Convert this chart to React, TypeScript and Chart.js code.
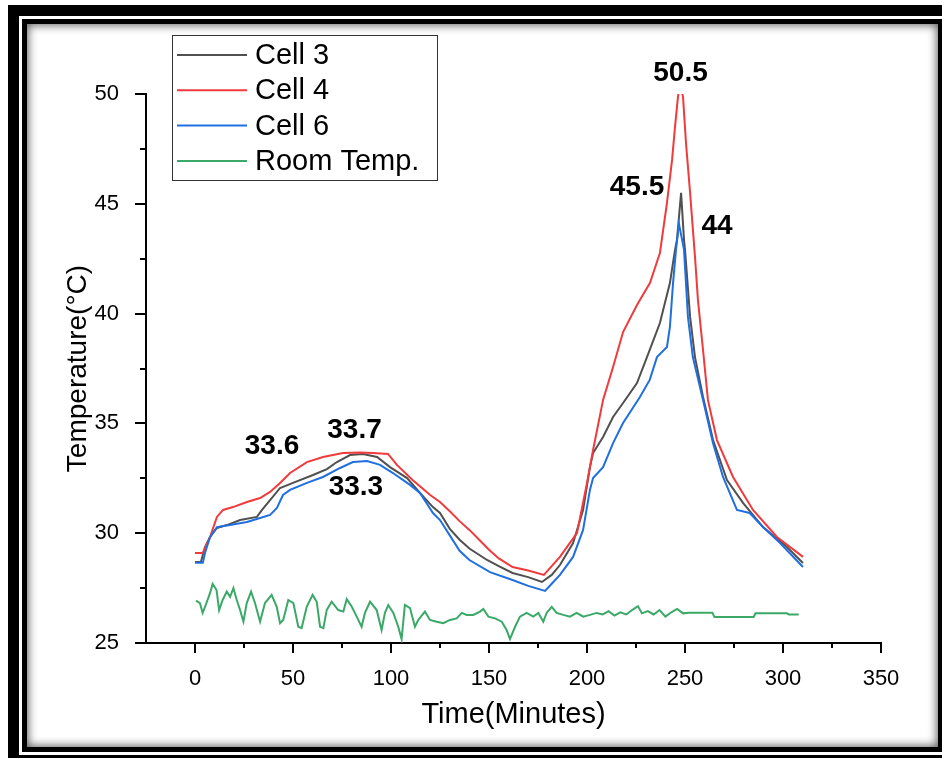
import React, { useEffect, useRef } from 'react';
import { Chart, registerables } from 'chart.js';
Chart.register(...registerables);

const FONT = '"Liberation Sans", Arial, Helvetica, sans-serif';

const seriesLabels = ['Cell 3', 'Cell 4', 'Cell 6', 'Room Temp.'];
const seriesColors = ['#505050', '#f03a3c', '#1f6fe0', '#3aa866'];

// [time (min), temperature (°C)]
const cell3: [number, number][] = [
  [0, 28.69], [3, 28.69], [5.1, 29.37], [7.7, 29.83], [11.2, 30.24], [16.3, 30.37], [23, 30.6], [31.6, 30.74],
  [34.2, 31.06], [38.3, 31.51], [43.4, 32.06], [50, 32.29], [60.2, 32.65], [67.3, 32.92], [72.4, 33.24],
  [79.1, 33.56], [85.7, 33.61], [92.9, 33.47], [99.5, 33.01], [108.2, 32.51], [114.8, 31.83], [121.4, 31.19],
  [125, 30.92], [130, 30.2], [135, 29.7], [140, 29.3], [149, 28.78], [155, 28.5], [162, 28.19], [170, 28.0],
  [177, 27.78], [182, 28.1], [186.2, 28.55], [192.9, 29.55], [198, 31.06], [201.5, 33.01], [203.1, 33.65],
  [208.2, 34.38], [213.3, 35.29], [218.4, 35.93], [225.5, 36.84], [230.6, 38.02], [237.2, 39.57], [242.3, 41.39],
  [244.9, 42.9], [245.9, 43.35], [248, 45.5], [249.5, 43.35], [250, 42.9], [252.6, 39.85], [255.1, 38.02],
  [259.2, 36.2], [264.3, 34.24], [271.4, 32.42], [279.6, 31.38], [289.8, 30.28], [302, 29.37], [310.2, 28.64],
];

const cell4: [number, number][] = [
  [0, 29.1], [4, 29.1], [7.7, 29.83], [11.2, 30.74], [14.3, 31.06], [19.4, 31.19], [26.5, 31.42], [33.2, 31.6],
  [38.3, 31.88], [43.4, 32.29], [48.5, 32.74], [57.1, 33.24], [65.3, 33.47], [75.5, 33.65], [84.2, 33.67],
  [90.8, 33.65], [98.5, 33.61], [103, 33.11], [111, 32.42], [120, 31.74], [125, 31.42], [130, 31.0], [135, 30.55],
  [140, 30.15], [145, 29.7], [150, 29.25], [155, 28.85], [162, 28.46], [170, 28.3], [178, 28.1], [182, 28.5],
  [186.2, 28.92], [190, 29.4], [194.9, 30.01], [200, 32.29], [203.1, 33.79], [208.2, 36.07], [213.3, 37.57],
  [218.4, 39.16], [225.5, 40.39], [232.1, 41.39], [237.2, 42.76], [240.8, 45.04], [243.4, 47.0], [244.9, 48.5],
  [246.4, 49.86], [247.4, 50.5], [249, 49.86], [250.5, 47.77], [252.6, 45.5], [255.1, 42.58], [256.6, 40.62],
  [259.2, 38.34], [261.7, 36.07], [266.3, 34.24], [274.5, 32.56], [284.7, 31.06], [296.9, 29.83], [310.2, 28.92],
];

const cell6: [number, number][] = [
  [0, 28.65], [4, 28.65], [5.1, 29.1], [7.7, 29.83], [11.2, 30.28], [17.9, 30.37], [26.5, 30.51], [33.2, 30.69],
  [38.3, 30.83], [41.8, 31.15], [44.9, 31.74], [48.5, 31.97], [57.1, 32.29], [65.3, 32.56], [74, 32.97],
  [80.6, 33.24], [87.8, 33.29], [94.4, 33.11], [101, 32.74], [109.7, 32.2], [114.8, 31.83], [121.4, 30.92],
  [125, 30.6], [130, 29.9], [135, 29.2], [140, 28.78], [150.5, 28.23], [162, 27.87], [170, 27.6], [178.6, 27.37],
  [182, 27.7], [186.2, 28.1], [192.9, 28.92], [198, 30.15], [201.5, 31.97], [203.1, 32.51], [208.2, 33.01],
  [213.3, 34.1], [218.4, 35.02], [227, 36.2], [232, 36.98], [235.7, 38.02], [240.8, 38.48], [242.3, 39.39],
  [243.9, 41.39], [245.4, 42.9], [246.9, 44.1], [249.5, 42.9], [251.5, 39.85], [254, 38.02], [259.2, 36.07],
  [264.3, 34.1], [269.4, 32.56], [276.5, 31.06], [283, 30.92], [289.8, 30.28], [298.5, 29.55], [310.2, 28.46],
];

const roomTemp: [number, number][] = [
  [0.5, 26.93], [2.5, 26.82], [3.9, 26.37], [5.1, 26.64], [7.7, 27.28], [9, 27.69], [11, 27.41], [12.3, 26.5],
  [14.1, 26.96], [16.2, 27.34], [17.9, 27.1], [19.6, 27.5], [21.3, 26.96], [23, 26.5], [24.7, 25.97], [26.4, 26.82],
  [28.6, 27.34], [30.6, 26.82], [33.2, 25.97], [35.7, 26.82], [39.1, 27.19], [41.7, 26.65], [43.4, 25.9], [45, 26.05],
  [47.6, 26.96], [50.2, 26.82], [52.7, 25.74], [54.4, 25.68], [57, 26.65], [60, 27.19], [62.1, 26.88], [63.8, 25.74],
  [65.5, 25.68], [67.2, 26.5], [69.7, 26.88], [73.1, 26.5], [75.7, 26.43], [77.4, 27.0], [80, 26.65], [82.5, 26.2],
  [85, 25.74], [86.7, 26.37], [89.3, 26.88], [92.7, 26.5], [95.2, 25.59], [96.9, 26.37], [98.6, 26.73], [101.2, 26.37],
  [103.7, 25.74], [105.4, 25.18], [107.1, 26.73], [109.7, 26.59], [112.2, 25.74], [113.9, 26.05], [117.3, 26.43],
  [119.9, 26.05], [123.3, 25.97], [126.7, 25.9], [130.1, 26.05], [133.5, 26.12], [136.1, 26.37], [138.6, 26.28],
  [142, 26.28], [145.4, 26.43], [147.1, 26.55], [149.7, 26.2], [153.1, 26.12], [156.5, 25.97], [159, 25.59],
  [160.7, 25.18], [163.3, 25.74], [165.8, 26.2], [169.2, 26.37], [172.6, 26.2], [175.2, 26.37], [177.7, 25.97],
  [179.4, 26.37], [182, 26.65], [184.5, 26.37], [187.9, 26.28], [191.3, 26.2], [194.7, 26.37], [198.1, 26.2],
  [201.5, 26.28], [204.9, 26.37], [208, 26.3], [211, 26.45], [214, 26.25], [217, 26.4], [220, 26.3], [223, 26.5],
  [226, 26.68], [228, 26.35], [231, 26.45], [234, 26.3], [237, 26.5], [240, 26.2], [243, 26.4], [246, 26.55],
  [249, 26.35], [252, 26.38], [264, 26.38], [265, 26.18], [285, 26.18], [286, 26.35], [302, 26.35], [303, 26.3],
  [308, 26.3],
];

const xTicks = [0, 50, 100, 150, 200, 250, 300, 350];
const yTicks = [25, 30, 35, 40, 45, 50];
const X_MIN = -25;
const X_MAX = 350;
const Y_MIN = 25;
const Y_MAX = 50;

const annotations = [
  { text: '50.5', t: 247.7, v: 50.96 },
  { text: '45.5', t: 225.5, v: 45.77 },
  { text: '44', t: 266.3, v: 43.97 },
  { text: '33.6', t: 39.3, v: 33.95 },
  { text: '33.7', t: 81.4, v: 34.7 },
  { text: '33.3', t: 82.1, v: 32.1 },
];

const decorations = {
  id: 'decorations',
  afterDraw(chart: any) {
    const { ctx, chartArea } = chart;
    const xs = chart.scales.x;
    const ys = chart.scales.y;
    ctx.save();
    // tick marks (outward)
    ctx.strokeStyle = '#000';
    ctx.lineWidth = 2;
    const bottom = chartArea.bottom;
    const left = chartArea.left;
    const xMinor = xTicks.slice(0, -1).map((v, i) => (v + xTicks[i + 1]) / 2);
    const yMinor = yTicks.slice(0, -1).map((v, i) => (v + yTicks[i + 1]) / 2);
    ctx.beginPath();
    xTicks.forEach((v) => { const p = Math.round(xs.getPixelForValue(v)); ctx.moveTo(p, bottom); ctx.lineTo(p, bottom + 10); });
    xMinor.forEach((v) => { const p = Math.round(xs.getPixelForValue(v)); ctx.moveTo(p, bottom); ctx.lineTo(p, bottom + 5); });
    yTicks.forEach((v) => { const p = Math.round(ys.getPixelForValue(v)); ctx.moveTo(left, p); ctx.lineTo(left - 11, p); });
    yMinor.forEach((v) => { const p = Math.round(ys.getPixelForValue(v)); ctx.moveTo(left, p); ctx.lineTo(left - 6, p); });
    ctx.stroke();

    // annotations
    ctx.fillStyle = '#000';
    ctx.font = `bold 28px ${FONT}`;
    ctx.textAlign = 'center';
    ctx.textBaseline = 'middle';
    annotations.forEach((a) => {
      ctx.fillText(a.text, xs.getPixelForValue(a.t), ys.getPixelForValue(a.v));
    });

    // legend
    const lx = 172.5, ly = 35.5, lw = 265, lh = 145;
    ctx.fillStyle = '#fff';
    ctx.fillRect(lx, ly, lw, lh);
    ctx.strokeStyle = '#333';
    ctx.lineWidth = 1;
    ctx.strokeRect(lx, ly, lw, lh);
    ctx.font = `29px ${FONT}`;
    ctx.textAlign = 'left';
    ctx.textBaseline = 'middle';
    chart.data.datasets.forEach((ds: any, i: number) => {
      const yy = 55 + i * 35.3;
      ctx.strokeStyle = ds.borderColor;
      ctx.lineWidth = 2;
      ctx.beginPath();
      ctx.moveTo(177, yy);
      ctx.lineTo(247, yy);
      ctx.stroke();
      ctx.fillStyle = '#000';
      ctx.fillText(ds.label, 255, yy + 1);
    });
    ctx.restore();
  },
};

export default function App() {
  const ref = useRef<HTMLCanvasElement>(null);
  useEffect(() => {
    const canvas = ref.current!;
    const series = [cell3, cell4, cell6, roomTemp];
    const datasets = series.map((d, i) => ({
      label: seriesLabels[i],
      data: d.map(([x, y]) => ({ x, y })),
      borderColor: seriesColors[i],
      backgroundColor: seriesColors[i],
      borderWidth: 2,
      pointRadius: 0,
      fill: false,
      tension: 0,
      order: 3 - i,
    }));
    const chart = new Chart(canvas, {
      type: 'line',
      data: { datasets },
      options: {
        animation: false,
        responsive: false,
        devicePixelRatio: 1,
        layout: { padding: { left: 61, right: 61, top: 94, bottom: 26 } },
        plugins: { legend: { display: false }, tooltip: { enabled: false } },
        scales: {
          x: {
            type: 'linear',
            min: X_MIN,
            max: X_MAX,
            afterBuildTicks: (s: any) => { s.ticks = xTicks.map((v) => ({ value: v })); },
            afterFit: (s: any) => { s.height = 89; },
            grid: { display: false },
            border: { display: true, color: '#000', width: 2 },
            ticks: {
              color: '#000', font: { family: FONT, size: 22 }, padding: 15,
              maxRotation: 0, autoSkip: false, callback: (v: any) => String(v),
            },
            title: { display: true, text: 'Time(Minutes)', color: '#000', font: { family: FONT, size: 29 }, padding: 0 },
          },
          y: {
            type: 'linear',
            min: Y_MIN,
            max: Y_MAX,
            afterBuildTicks: (s: any) => { s.ticks = yTicks.map((v) => ({ value: v })); },
            afterFit: (s: any) => { s.width = 85; },
            grid: { display: false },
            border: { display: true, color: '#000', width: 2 },
            ticks: {
              color: '#000', font: { family: FONT, size: 22 }, padding: 19,
              autoSkip: false, callback: (v: any) => String(v),
            },
            title: { display: true, text: 'Temperature(°C)', color: '#000', font: { family: FONT, size: 28 }, padding: 0 },
          },
        },
      },
      plugins: [decorations],
    } as any);
    return () => chart.destroy();
  }, []);

  const abs = (s: React.CSSProperties): React.CSSProperties => ({ position: 'absolute', ...s });
  return (
    <div style={{ position: 'fixed', left: 0, top: 0, width: 942, height: 758, overflow: 'hidden', background: '#fff' }}>
      <div style={abs({ left: 8, top: 5, width: 1000, height: 1000, background: '#000' })} />
      <div style={abs({ left: 19, top: 16, width: 1000, height: 739, background: '#fff' })} />
      <div style={abs({ left: 22, top: 19, width: 920, height: 733, background: '#000' })} />
      <div style={abs({ left: 27, top: 24, width: 911, height: 723, background: '#fff', boxShadow: 'inset 0 0 10px 1px rgba(0,0,0,0.65)' })} />
      <canvas ref={ref} width={942} height={758} style={abs({ left: 0, top: 0, width: 942, height: 758 })} />
    </div>
  );
}
